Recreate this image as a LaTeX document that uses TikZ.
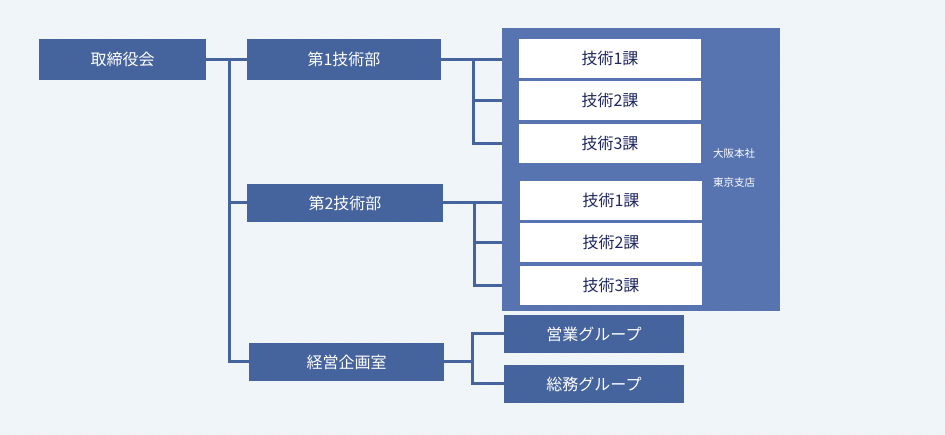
\documentclass[tikz,border=0pt]{standalone}
\usepackage{fontspec}
\newfontfamily\jpfont{Noto Sans CJK JP}
\usepackage{tikz}
\usetikzlibrary{positioning, patterns}

\definecolor{boxblue}{RGB}{69,99,156}
\definecolor{panelblue}{RGB}{88,116,176}
\definecolor{bgblue}{RGB}{244,248,251}
\definecolor{stripeblue}{RGB}{233,241,247}
\definecolor{navytext}{RGB}{31,39,96}

\begin{document}
\begin{tikzpicture}[
            x=1pt, y=-1pt,
            node distance = 3pt,
            dept/.style = {fill=boxblue, text=white, inner sep=0pt,
                minimum width=194pt, minimum height=39pt,
                font=\jpfont\fontsize{16}{16}\selectfont},
            sect/.style = {fill=white, text=navytext, inner sep=0pt,
                minimum width=182pt, minimum height=39pt,
                font=\jpfont\fontsize{16}{16}\selectfont},
            site/.style = {text=white, inner sep=0pt,
                font=\jpfont\fontsize{10.5}{10.5}\selectfont},
            line/.style = {draw=boxblue, line width=3pt},
            ]
            \useasboundingbox (0,0) rectangle (945,435);
            \fill[bgblue] (0,0) rectangle (945,435);
            \fill[pattern=north east lines, pattern color=stripeblue] (0,0) rectangle (945,435);

            % left side
            \node[dept, minimum width=167pt, minimum height=41pt] (board) at (122.5,59.5) {取締役会};
            \node[dept, minimum height=41pt] (D1) at (344,59.5) {第1技術部};
            \node[dept, minimum width=196pt, minimum height=38pt] (D2) at (345,203) {第2技術部};
            \node[dept, minimum width=195pt, minimum height=38pt] (plan) at (346.5,362) {経営企画室};

            % sections
            \node[fill=panelblue, inner sep=0pt, minimum width=278pt, minimum height=283pt] (panel) at (641,169.5) {};
            \node[sect] (S11) at (610,58.5) {技術1課};
            \node[sect, below=of S11] (S12) {技術2課};
            \node[sect, below=of S12] (S13) {技術3課};
            \node[sect] (S21) at (611,200.5) {技術1課};
            \node[sect, below=of S21] (S22) {技術2課};
            \node[sect, below=of S22] (S23) {技術3課};
            \node[site] (osaka) at (734,154) {大阪本社};
            \node[site] (tokyo) at (734,183) {東京支店};

            \node[dept, minimum width=180pt, minimum height=38pt] (sales) at (594,334) {営業グループ};
            \node[dept, minimum width=180pt, minimum height=38pt] (admin) at (594,384) {総務グループ};

            % connectors
            \coordinate (trunk) at (229,59.5);
            \draw[line] (board.east) -- (D1.west);
            \draw[line] (trunk) |- (plan.west);
            \draw[line] (trunk |- D2.west) -- (D2.west);

            \coordinate (fork1) at (473,59.5);
            \draw[line] (D1.east) -- (panel.west |- D1.east);
            \draw[line] (fork1) |- (panel.west |- S13);
            \draw[line] (fork1 |- S12) -- (panel.west |- S12);

            \coordinate (fork2) at (474,203);
            \draw[line] (D2.east) -- (panel.west |- D2.east);
            \draw[line] (fork2) |- (panel.west |- S23);
            \draw[line] (fork2 |- S22) -- (panel.west |- S22);

            \coordinate (fork3) at (472,362);
            \draw[line] (plan.east) -- (fork3);
            \draw[line] (sales.west) -| (fork3 |- admin.west) -- (admin.west);
        \end{tikzpicture}
\end{document}
